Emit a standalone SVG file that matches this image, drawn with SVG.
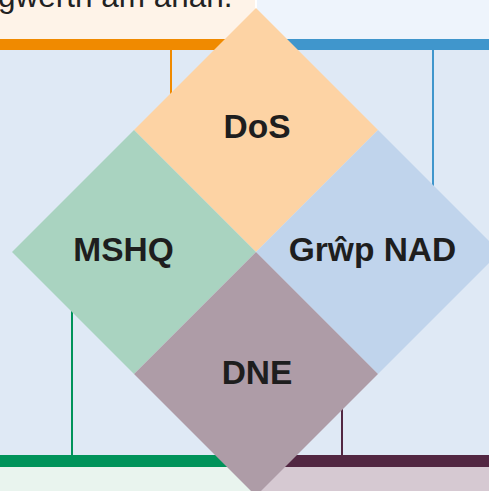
<svg xmlns="http://www.w3.org/2000/svg" width="489" height="491" viewBox="0 0 489 491">
<style>
.lbl{font-family:"Liberation Sans",Arial,sans-serif;font-weight:bold;font-size:33.5px;fill:#1e1e1e;text-anchor:middle}
.body{font-family:"Liberation Sans",Arial,sans-serif;font-size:31.5px;fill:#222}
.conn{stroke-width:2;fill:none}
</style>
<rect x="0" y="0" width="489" height="491" fill="#ffffff"/>
<rect x="0" y="50" width="489" height="405" fill="#dfe9f5"/>
<g id="panel-top-left">
<rect x="0" y="0" width="255" height="39" fill="#fef3e8"/>
<text class="body" x="-2" y="7">gwerth am arian.</text>
<rect x="0" y="39" width="256" height="11" fill="#f08a00"/>
</g>
<g id="panel-top-right">
<rect x="257" y="0" width="232" height="39" fill="#eef4fc"/>
<rect x="256" y="39" width="233" height="11" fill="#4096cc"/>
</g>
<g id="panel-bottom-left">
<rect x="0" y="455" width="256" height="12" fill="#00935a"/>
<rect x="0" y="467" width="256" height="24" fill="#e9f4ee"/>
</g>
<g id="panel-bottom-right">
<rect x="256" y="455" width="233" height="12" fill="#522742"/>
<rect x="256" y="467" width="233" height="24" fill="#d6c9d2"/>
</g>
<g id="connectors">
<line class="conn" x1="171" y1="50" x2="171" y2="130" stroke="#f08a00"/>
<line class="conn" x1="433" y1="50" x2="433" y2="252" stroke="#4096cc"/>
<line class="conn" x1="72" y1="455" x2="72" y2="252" stroke="#00935a"/>
<line class="conn" x1="342" y1="455" x2="342" y2="374" stroke="#522742"/>
</g>
<g id="node-dos">
<polygon points="256,8 378,130 256,252 134,130" fill="#fdd3a4"/>
<text class="lbl" x="257" y="138">DoS</text>
</g>
<g id="node-mshq">
<polygon points="134,130 256,252 134,374 12,252" fill="#a9d3c0"/>
<text class="lbl" x="123.5" y="261">MSHQ</text>
</g>
<g id="node-grwp-nad">
<polygon points="378,130 500,252 378,374 256,252" fill="#c0d4ec"/>
<text class="lbl" x="372.5" y="261">Grŵp NAD</text>
</g>
<g id="node-dne">
<polygon points="256,252 378,374 256,496 134,374" fill="#ae9ca7"/>
<text class="lbl" x="257" y="384">DNE</text>
</g>
</svg>
